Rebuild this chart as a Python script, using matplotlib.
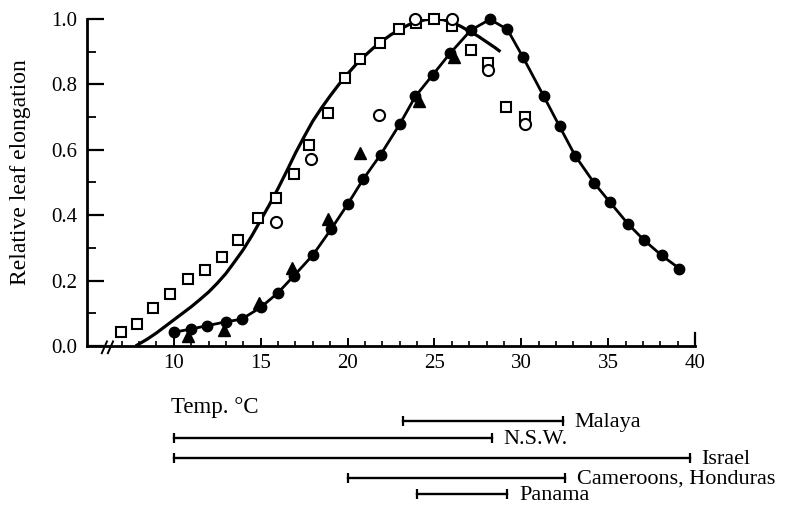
import matplotlib
matplotlib.use("Agg")
import matplotlib.pyplot as plt
from matplotlib.ticker import MultipleLocator, FixedLocator

plt.rcParams['font.family'] = ['Liberation Serif', 'DejaVu Serif']

# Open squares
sq_T = [6.93, 7.85, 8.8, 9.77, 10.8, 11.8, 12.8, 13.7, 14.85, 15.9, 16.9, 17.8,
        18.85, 19.85, 20.7, 21.86, 22.97, 23.95, 24.97, 26.0, 27.1, 28.1, 29.1, 30.2]
sq_v = [0.042, 0.067, 0.115, 0.158, 0.204, 0.233, 0.273, 0.324, 0.392, 0.453, 0.527, 0.616,
        0.712, 0.82, 0.877, 0.927, 0.97, 0.987, 1.0, 0.978, 0.905, 0.865, 0.73, 0.70]

# Open circles
oc_T = [15.9, 17.9, 21.8, 23.9, 26.0, 28.1, 30.2]
oc_v = [0.379, 0.572, 0.707, 1.0, 1.0, 0.845, 0.68]

# Filled triangles
tri_T = [10.8, 12.9, 14.9, 16.8, 18.9, 20.7, 24.1, 26.1]
tri_v = [0.03, 0.05, 0.133, 0.24, 0.387, 0.59, 0.748, 0.885]

# Filled circles (joined)
fc_T = [10.0, 11.0, 11.9, 13.0, 13.9, 15.0, 16.0, 16.9, 18.0, 19.05, 20.0, 20.9, 21.9,
        23.0, 23.9, 24.9, 25.9, 27.1, 28.2, 29.2, 30.1, 31.3, 32.2, 33.1, 34.2, 35.1,
        36.15, 37.06, 38.08, 39.1]
fc_v = [0.042, 0.052, 0.062, 0.074, 0.082, 0.118, 0.163, 0.214, 0.278, 0.357, 0.433, 0.51,
        0.585, 0.678, 0.763, 0.829, 0.895, 0.966, 0.999, 0.968, 0.883, 0.763, 0.672, 0.582,
        0.498, 0.44, 0.373, 0.324, 0.277, 0.237]

# Fitted response curve
curve_T = [7.8, 8.5, 9.0, 9.5, 10.0, 10.5, 11.0, 11.5, 12.0, 12.5, 13.0, 13.5, 14.0, 14.5,
           15.0, 15.5, 16.0, 16.5, 17.0, 17.5, 18.0, 18.5, 19.0, 19.5, 20.0, 20.5, 21.0,
           21.5, 22.0, 22.5, 23.0, 23.5, 24.0, 24.5, 25.0, 25.5, 26.0, 26.5, 27.0, 27.5,
           28.0, 28.5, 28.8]
curve_v = [0.0, 0.022, 0.04, 0.06, 0.08, 0.10, 0.12, 0.142, 0.165, 0.192, 0.222, 0.258,
           0.295, 0.338, 0.385, 0.432, 0.482, 0.535, 0.59, 0.64, 0.688, 0.728, 0.765, 0.80,
           0.832, 0.862, 0.888, 0.912, 0.933, 0.952, 0.968, 0.982, 0.992, 0.998, 1.0, 0.998,
           0.99, 0.978, 0.963, 0.948, 0.93, 0.912, 0.90]

# Temperature ranges of growing regions
regions = ["Malaya", "N.S.W.", "Israel", "Cameroons, Honduras", "Panama"]
range_lo = [23.2, 10.0, 10.0, 20.0, 24.0]
range_hi = [32.4, 28.3, 39.7, 32.5, 29.2]

W, H = 799, 505
fig = plt.figure(figsize=(W / 100, H / 100), dpi=100)
fig.patch.set_facecolor('white')

left, right = 87 / W, 695 / W
bottom, top = 1 - 346 / H, 1 - 19 / H
ax = fig.add_axes([left, bottom, right - left, top - bottom])
ax.set_xlim(5, 40)
ax.set_ylim(0, 1.0)

for s in ('top', 'right'):
    ax.spines[s].set_visible(False)
for s in ('left', 'bottom'):
    ax.spines[s].set_linewidth(2.0)

ax.xaxis.set_major_locator(FixedLocator([10, 15, 20, 25, 30, 35, 40]))
ax.xaxis.set_minor_locator(FixedLocator(list(range(7, 40))))
ax.yaxis.set_major_locator(MultipleLocator(0.2))
ax.yaxis.set_minor_locator(MultipleLocator(0.1))
ax.yaxis.set_major_formatter(plt.FuncFormatter(lambda v, p: f"{v:.1f}"))

ax.tick_params(axis='x', which='major', direction='in', length=6, width=1.4,
               labelsize=15, pad=6)
ax.tick_params(axis='x', which='minor', direction='in', length=3.5, width=1.2)
ax.tick_params(axis='y', which='major', direction='in', length=12, width=1.6,
               labelsize=15, pad=7)
ax.tick_params(axis='y', which='minor', direction='in', length=6.5, width=1.3)

# axis break marks
for x0 in (5.85, 6.2):
    ax.plot([x0, x0 + 0.3], [-0.022, 0.014], color='black', lw=1.4, clip_on=False)
# end tick at 40
ax.plot([40, 40], [0, 0.04], color='black', lw=1.6, clip_on=False)

ax.plot(curve_T, curve_v, color='black', lw=2.3, zorder=2, solid_capstyle='butt')
ax.plot(fc_T, fc_v, color='black', lw=2.0, marker='o', ms=7.5, zorder=3, clip_on=False)
ax.plot(tri_T, tri_v, linestyle='none', marker='^', ms=9, color='black', zorder=4,
        clip_on=False)
ax.plot(sq_T, sq_v, linestyle='none', marker='s', ms=7.5, mfc='white', mec='black',
        mew=1.5, zorder=5, clip_on=False)
ax.plot(oc_T, oc_v, linestyle='none', marker='o', ms=8, mfc='white', mec='black',
        mew=1.5, zorder=6, clip_on=False)

fig.text(21 / W, 1 - 172 / H, "Relative leaf elongation", rotation=90,
         ha='center', va='center', fontsize=17)

# Range bars below the temperature axis, sharing its x scale
axr = fig.add_axes([left, 0, right - left, 105 / H])
axr.set_xlim(5, 40)
axr.set_ylim(505, 400)
axr.axis('off')
row_y = [421, 438, 458, 478, 494]
for name, lo, hi, y in zip(regions, range_lo, range_hi, row_y):
    axr.plot([lo, hi], [y, y], color='black', lw=1.7, clip_on=False)
    axr.plot([lo, hi], [y, y], linestyle='none', marker='|', ms=6.5, mew=1.6,
             color='black', clip_on=False)
    axr.annotate(name, xy=(hi, y), xytext=(8.5, -4.2), textcoords='offset points',
                 ha='left', va='baseline', fontsize=16, annotation_clip=False)
axr.text(9.85, 413, "Temp. °C", ha='left', va='baseline', fontsize=16.5)

fig.savefig("out.png", dpi=100, facecolor='white')
